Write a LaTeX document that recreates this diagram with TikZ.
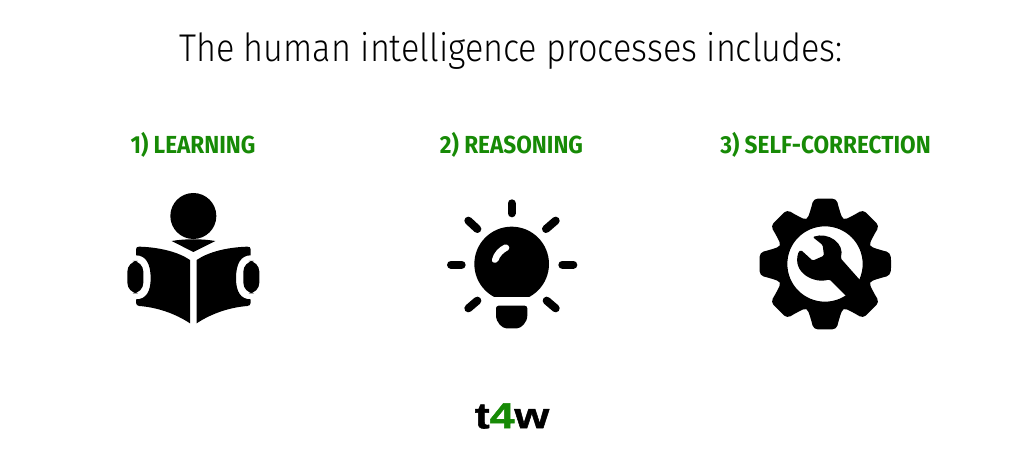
\documentclass[tikz,border=0pt]{standalone}
\usepackage{fontspec}
\setmainfont{Fira Sans}
\newfontfamily\titlefont[FakeStretch=0.885]{Fira Sans Light}
\newfontfamily\headfont[FakeStretch=0.915]{Fira Sans Bold}
\newfontfamily\logofont[FakeStretch=1.24,FakeBold=1.5]{Liberation Sans Bold}
\definecolor{headgreen}{HTML}{178A06}
\definecolor{inkblack}{HTML}{000000}
\tikzset{
x=0.75pt,
y=-0.75pt,
title/.style={font=\titlefont\fontsize{29}{34}\selectfont, text=inkblack, inner sep=0pt},
heading/.style={font=\headfont\fontsize{18.5}{22}\selectfont, text=headgreen, inner sep=0pt},
logo/.style={font=\logofont\fontsize{27}{30}\selectfont, text=inkblack, inner sep=0pt},
icon/.style={scale=1/3},
ink/.style={fill=inkblack},
ray/.style={draw=inkblack, line width=6pt, line cap=round},
}
\begin{document}
\begin{tikzpicture}
\useasboundingbox (0,0) rectangle (1024,452);
\node (heading) [title] at (511,51) {The human intelligence processes includes:};
\node (learning) [heading] at (193,145) {1) LEARNING};
\node (reasoning) [heading] at (511.5,145) {2) REASONING};
\node (correction) [heading] at (825.5,145) {3) SELF-CORRECTION};
\node (brand) [logo] at (512,416) {t\textcolor{headgreen}{4}w};
% reader
\begin{scope}[shift={(110,180)}, icon]
    \fill[ink] (250,108) circle (69);
    \fill[ink] (185,183) .. controls (225,176) and (275,176) .. (316,183) -- (250,216) -- cycle;
    \fill[ink] (78,208) .. controls (78,202) and (82,200) .. (88,200) .. controls (150,202) and (205,216) .. (240,240) -- (240,430)
        .. controls (195,400) and (140,382) .. (88,378) .. controls (82,378) and (78,374) .. (78,368) -- (78,358)
        .. controls (108,358) and (122,335) .. (122,295) .. controls (122,252) and (108,226) .. (78,226) -- cycle;
    \fill[ink] (422,208) .. controls (422,202) and (418,200) .. (412,200) .. controls (350,202) and (295,216) .. (260,240) -- (260,430)
        .. controls (305,400) and (360,382) .. (412,378) .. controls (418,378) and (422,374) .. (422,368) -- (422,358)
        .. controls (392,358) and (378,335) .. (378,295) .. controls (378,252) and (392,226) .. (422,226) -- cycle;
    \fill[ink, rounded corners=8pt] (52,243) rectangle (100,340);
    \fill[ink, rounded corners=8pt] (400,243) rectangle (448,340);
\end{scope}
% bulb
\begin{scope}[shift={(435,190)}, icon]
    \begin{scope}
        \clip (100,90) rectangle (360,320);
        \fill[ink] (230,222) circle (112);
    \end{scope}
    \fill[white] (171,208) .. controls (175,190) and (190,172) .. (208,164) .. controls (218,160) and (228,172) .. (220,180)
        .. controls (205,188) and (195,198) .. (190,212) .. controls (185,222) and (168,220) .. (171,208) -- cycle;
    \fill[ink, rounded corners=2pt] (183,347) -- (277,347) -- (277,368) .. controls (277,398) and (258,415) .. (238,415)
        -- (222,415) .. controls (202,415) and (183,398) .. (183,368) -- cycle;
    \foreach \xa/\ya/\xb/\yb in {230/40/230/70, 48/224/80/224, 382/224/415/224, 100/92/127/117,
        333/117/362/92, 100/355/127/332, 335/332/362/355}
        \draw[ray] (\xa,\ya) -- (\xb,\yb);
\end{scope}
% gear
\begin{scope}[shift={(825,264)}, icon]
    \fill[ink, even odd rule, rounded corners=3pt] (0:199)
        \foreach \a in {0,45,...,315} {
            -- (\a+10:199) -- (\a+13:178) .. controls (\a+22.5:140) .. (\a+32:178) -- (\a+35:199)
        } -- cycle (0,0) circle (113);
\end{scope}
\begin{scope}[shift={(750,190)}, icon]
    \fill[ink, rounded corners=1pt] (188,141) .. controls (235,125) and (285,160) .. (272,205) -- (342,284) -- (298,328)
        -- (238,268) .. controls (195,282) and (125,250) .. (146,185) -- (153,180) -- (188,212) -- (222,197) -- (218,165) -- cycle;
\end{scope}
\end{tikzpicture}
\end{document}
